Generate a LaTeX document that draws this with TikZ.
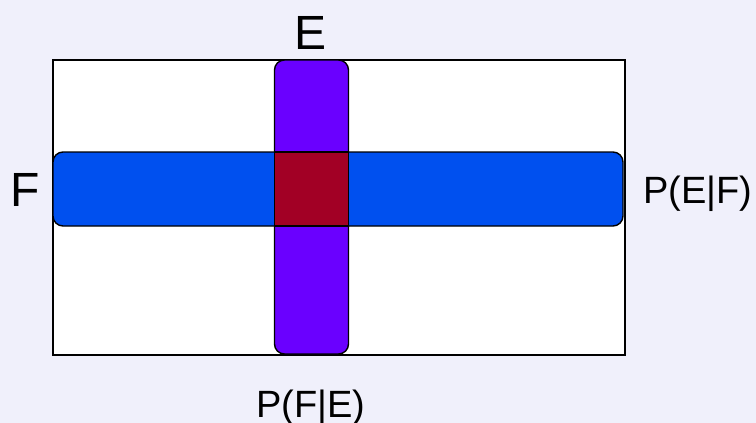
\documentclass[tikz,border=0pt]{standalone}
\usepackage{fontspec}
\setmainfont{Liberation Sans}
\definecolor{pagebg}{HTML}{F0F0FB}
\definecolor{violetbar}{HTML}{6A00FF}
\definecolor{bluebar}{HTML}{0050EF}
\definecolor{crimsonsq}{HTML}{A20025}
\begin{document}
\begin{tikzpicture}[x=1pt,y=-1pt,
  bar/.style={draw=black,line width=1.4pt,rounded corners=10pt,inner sep=0pt,outer sep=0pt},
  sq/.style={draw=black,line width=1.4pt,inner sep=0pt,outer sep=0pt},
  biglabel/.style={font=\fontsize{48}{48}\selectfont,anchor=base,inner sep=0pt},
  problabel/.style={font=\fontsize{38}{38}\selectfont,anchor=base,inner sep=0pt}]
  % page background
  \fill[pagebg] (0,0) rectangle (756,423);
  \useasboundingbox (0,0) rectangle (756,423);
  % sample space
  \node[sq,fill=white,minimum width=572pt,minimum height=295pt] (space) at (339,207.5) {};
  % event E (vertical) and event F (horizontal)
  \node[bar,fill=violetbar,minimum width=74pt,minimum height=294pt] (E) at (311.5,207) {};
  \node[bar,fill=bluebar,minimum width=570pt,minimum height=74pt] (F) at (338,189) {};
  % intersection of E and F
  \node[sq,fill=crimsonsq,minimum width=74pt,minimum height=74pt] (EF) at (311.5,189) {};
  % labels
  \node[biglabel] (labE) at (311,49) {E};
  \node[biglabel] (labF) at (25,206) {F};
  \node[problabel] (pEF) at (698,203) {P(E|F)};
  \node[problabel] (pFE) at (311,417) {P(F|E)};
\end{tikzpicture}
\end{document}
